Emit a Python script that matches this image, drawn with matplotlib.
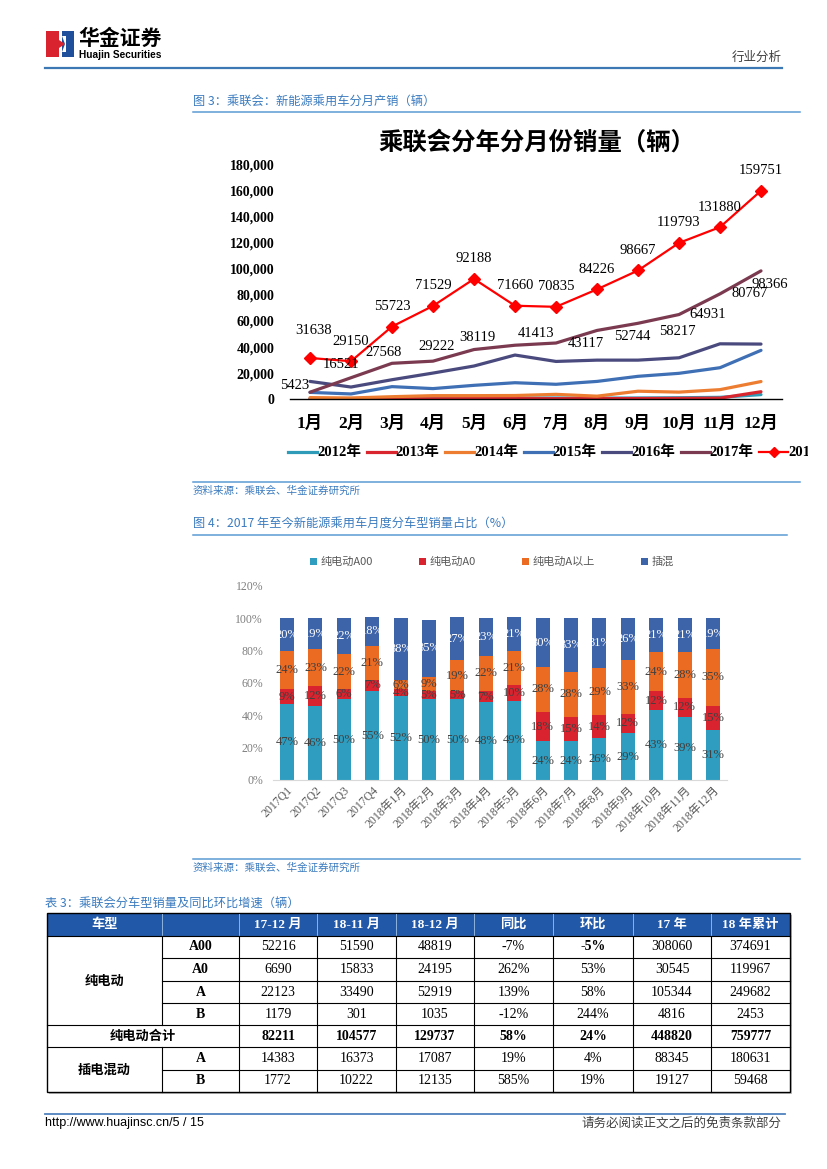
import numpy as np
import matplotlib.pyplot as plt
from matplotlib.patches import Rectangle, Polygon
from matplotlib.ticker import FuncFormatter

plt.rcParams['font.family'] = ['Liberation Serif', 'Noto Sans CJK SC']

W, H = 827, 1169
CJK = ['Noto Sans CJK SC', 'DejaVu Sans']

# 图3：分年分月销量（辆）
months = ['1月', '2月', '3月', '4月', '5月', '6月', '7月', '8月', '9月', '10月', '11月', '12月']
years = ['2012年', '2013年', '2014年', '2015年', '2016年', '2017年', '2018年']
sales_2012 = [500, 600, 700, 800, 900, 1000, 1000, 900, 1000, 1200, 1500, 3600]
sales_2013 = [300, 300, 400, 400, 500, 500, 500, 500, 600, 700, 900, 5800]
sales_2014 = [1300, 1000, 2000, 2800, 2800, 2900, 3800, 2400, 6200, 5500, 7400, 13600]
sales_2015 = [5300, 4100, 9700, 8200, 10700, 12700, 11500, 13700, 17600, 19900, 24200, 37500]
sales_2016 = [13700, 9400, 15000, 20100, 25500, 33900, 29000, 30000, 30000, 31800, 42500, 42300]
sales_2017 = [5423, 16521, 27568, 29222, 38119, 41413, 43117, 52744, 58217, 64931, 80767, 98366]
sales_2018 = [31638, 29150, 55723, 71529, 92188, 71660, 70835, 84226, 98667, 119793, 131880, 159751]

# 图4：分车型销量占比（%）
bar_cats = ['2017Q1', '2017Q2', '2017Q3', '2017Q4'] + ['2018年%d月' % m for m in range(1, 13)]
share_a00 = [47, 46, 50, 55, 52, 50, 50, 48, 49, 24, 24, 26, 29, 43, 39, 31]
share_a0 = [9, 12, 6, 7, 4, 5, 5, 7, 10, 18, 15, 14, 12, 12, 12, 15]
share_a_up = [24, 23, 22, 21, 6, 9, 19, 22, 21, 28, 28, 29, 33, 24, 28, 35]
share_phev = [20, 19, 22, 18, 38, 35, 27, 23, 21, 30, 33, 31, 26, 21, 21, 19]
share_names = ['纯电动A00', '纯电动A0', '纯电动A以上', '插混']

# 表3
table_header = ['车型', '', '17-12 月', '18-11 月', '18-12 月', '同比', '环比', '17 年', '18 年累计']
row_types = ['A00', 'A0', 'A', 'B', '', 'A', 'B']
col_1712 = [52216, 6690, 22123, 1179, 82211, 14383, 1772]
col_1811 = [51590, 15833, 33490, 301, 104577, 16373, 10222]
col_1812 = [48819, 24195, 52919, 1035, 129737, 17087, 12135]
col_yoy = ['-7%', '262%', '139%', '-12%', '58%', '19%', '585%']
col_mom = ['-5%', '53%', '58%', '244%', '24%', '4%', '19%']
col_17 = [308060, 30545, 105344, 4816, 448820, 88345, 19127]
col_18 = [374691, 119967, 249682, 2453, 759777, 180631, 59468]

# 样式
line_colors = ['#2E9BB8', '#D9262E', '#ED7D31', '#3F6FB5', '#4A4A7E', '#7B3A50', '#FF0000']
bar_colors = ['#2F9DBF', '#D9232E', '#EB6B22', '#3D63A8']
blue_txt = '#3B7BBF'
rule_col = '#5B9BD5'
lbl_2018 = [(4, 27)] + [(0, 20)] * 11
lbl_2017 = [(-15, 7), (-10, 13), (-8, 11), (4, 15), (3, 12), (21, 12),
            (30, 0), (35, -6), (39, -8), (29, 0), (30, 0), (9, -14)]


def box(x0, y0, x1, y1):
    return [x0 / W, 1 - y1 / H, (x1 - x0) / W, (y1 - y0) / H]


fig = plt.figure(figsize=(W / 100, H / 100), dpi=100)
page = fig.add_axes([0, 0, 1, 1])
page.set_xlim(0, W)
page.set_ylim(H, 0)
page.axis('off')

# 页眉
page.add_patch(Rectangle((46, 31), 13, 26, color='#D9232E', lw=0))
page.add_patch(Rectangle((62, 31), 12, 26, color='#1F4E9A', lw=0))
page.add_patch(Polygon([[59, 40], [65, 44], [59, 48]], color='#D9232E', lw=0))
page.add_patch(Polygon([[62, 36], [66, 36], [66, 52], [62, 52], [65, 44]], color='white', lw=0))
page.text(78, 38, '华金证券', family=CJK, fontsize=15, weight='heavy', va='center')
page.text(79, 54.5, 'Huajin Securities', family='Liberation Sans', fontsize=7.3, weight='bold', va='center')
page.text(782, 57, '行业分析', family=CJK, fontsize=9, color='#404040', ha='right', va='center')
page.plot([45, 782], [68, 68], color='#3C78B4', lw=1.6)

# 说明文字和分隔线
page.text(193, 101, '图 3：乘联会：新能源乘用车分月产销（辆）', family=CJK, fontsize=8.8, color=blue_txt, va='center')
page.plot([193, 800], [112, 112], color=rule_col, lw=1.1)
page.plot([193, 800], [482, 482], color=rule_col, lw=1.1)
page.text(193, 491, '资料来源：乘联会、华金证券研究所', family=CJK, fontsize=7.6, color=blue_txt, va='center', style='italic')
page.text(193, 524, '图 4：2017 年至今新能源乘用车月度分车型销量占比（%）', family=CJK, fontsize=8.8, color=blue_txt, va='center')
page.plot([193, 787], [535, 535], color=rule_col, lw=1.1)
page.plot([193, 800], [859, 859], color=rule_col, lw=1.1)
page.text(193, 868, '资料来源：乘联会、华金证券研究所', family=CJK, fontsize=7.6, color=blue_txt, va='center', style='italic')
page.text(45, 903, '表 3：乘联会分车型销量及同比环比增速（辆）', family=CJK, fontsize=8.8, color=blue_txt, va='center')

# 图3 折线图
ax1 = fig.add_axes(box(289.5, 164.3, 781.5, 399.3))
ax1.patch.set_alpha(0)
x = np.arange(1, 13)
series = [sales_2012, sales_2013, sales_2014, sales_2015, sales_2016, sales_2017]
for vals, col in zip(series, line_colors[:6]):
    ax1.plot(x, vals, color=col, lw=2.3, solid_capstyle='round')
ax1.plot(x, sales_2018, color=line_colors[6], lw=1.6, marker='D', markersize=6.5)
for xi, v, off in zip(x, sales_2017, lbl_2017):
    ax1.annotate(str(v), (xi, v), xytext=off, textcoords='offset pixels',
                 ha='center', va='center', fontsize=10.5)
for xi, v, off in zip(x, sales_2018, lbl_2018):
    ax1.annotate(str(v), (xi, v), xytext=off, textcoords='offset pixels',
                 ha='center', va='center', fontsize=10.5)
ax1.set_xlim(0.5, 12.5)
ax1.set_ylim(0, 180000)
ax1.set_yticks(np.arange(0, 180001, 20000))
ax1.yaxis.set_major_formatter(FuncFormatter(lambda v, p: '{:,.0f}'.format(v)))
ax1.set_xticks(x)
ax1.set_xticklabels(months, fontsize=12.5, weight='bold')
for t in ax1.get_yticklabels():
    t.set_fontsize(10)
    t.set_fontweight('bold')
ax1.tick_params(axis='y', length=0, pad=11)
ax1.tick_params(axis='x', length=0, pad=12)
for s in ['top', 'right', 'left']:
    ax1.spines[s].set_visible(False)
ax1.spines['bottom'].set_linewidth(1.0)
page.text(537, 143, '乘联会分年分月份销量（辆）', family=CJK, fontsize=17.6, weight='bold', ha='center', va='center')

# 图3 图例（右端被裁切）
lg = fig.add_axes(box(190, 440, 808, 465))
lg.set_xlim(190, 808)
lg.set_ylim(465, 440)
lg.axis('off')
for i, (yr, col) in enumerate(zip(years, line_colors)):
    x0 = 288 + i * 78.5
    lg.plot([x0, x0 + 29], [452, 452], color=col, lw=2.3 if i < 6 else 1.6, clip_on=True)
    if i == 6:
        lg.plot([x0 + 14.5], [452], marker='D', color=col, markersize=5, clip_on=True)
    lg.text(x0 + 29, 452, yr, fontsize=10.5, weight='bold', va='center', ha='left', clip_on=True)

# 图4 堆积柱状图
ax2 = fig.add_axes(box(272.8, 586, 727.2, 780))
ax2.patch.set_alpha(0)
xb = np.arange(len(bar_cats))
bottom = np.zeros(len(bar_cats))
label_cols = ['#404040', '#404040', '#404040', 'white']
for vals, col, name, lc in zip([share_a00, share_a0, share_a_up, share_phev], bar_colors, share_names, label_cols):
    frac = np.array(vals) / 100.0
    bars = ax2.bar(xb, frac, 0.49, bottom=bottom, color=col, label=name, lw=0)
    ax2.bar_label(bars, labels=['%d%%' % v for v in vals], label_type='center',
                  fontsize=9, color=lc)
    bottom += frac
ax2.set_xlim(-0.5, len(bar_cats) - 0.5)
ax2.set_ylim(0, 1.2)
ax2.set_yticks(np.arange(0, 1.21, 0.2))
ax2.set_yticklabels(['%d%%' % round(v * 100) for v in np.arange(0, 1.21, 0.2)], color='#7F7F7F', fontsize=8.5)
ax2.set_xticks(xb)
ax2.set_xticklabels(bar_cats, rotation=45, ha='right', rotation_mode='anchor', color='#595959', fontsize=8.5)
ax2.tick_params(axis='y', length=0, pad=7)
ax2.tick_params(axis='x', length=0, pad=3)
for s in ['top', 'right', 'left']:
    ax2.spines[s].set_visible(False)
ax2.spines['bottom'].set_color('#D9D9D9')
leg = ax2.legend(loc='center', bbox_to_anchor=(492 / W, 1 - 562 / H), bbox_transform=fig.transFigure,
                 ncol=4, frameon=False, fontsize=8, handlelength=0.6, handleheight=0.6,
                 handletextpad=0.3, columnspacing=4.2, labelcolor='#595959')
for t in leg.get_texts():
    t.set_family(CJK)

# 表3
cols_x = [47, 162, 239, 317, 396, 474, 553, 633, 711, 790]
rows_y = [913, 936, 958, 981, 1003, 1025, 1047, 1070, 1092]
page.add_patch(Rectangle((cols_x[0] + 2, rows_y[0] + 2), cols_x[-1] - cols_x[0], rows_y[-1] - rows_y[0],
                         color='#BFBFBF', lw=0))
page.add_patch(Rectangle((cols_x[0], rows_y[0]), cols_x[-1] - cols_x[0], rows_y[-1] - rows_y[0],
                         facecolor='white', edgecolor='none'))
page.add_patch(Rectangle((cols_x[0], rows_y[0]), cols_x[-1] - cols_x[0], rows_y[1] - rows_y[0],
                         facecolor='#2158A8', edgecolor='none'))
for xv in cols_x[1:-1]:
    page.plot([xv, xv], [rows_y[0] + 1, rows_y[1] - 1], color='#8FB3DE', lw=0.7)
for i, h in enumerate(table_header):
    if i == 0:
        cx = (cols_x[0] + cols_x[1]) / 2
    else:
        cx = (cols_x[i] + cols_x[i + 1]) / 2
    page.text(cx, (rows_y[0] + rows_y[1]) / 2, h, color='white', fontsize=9.5, weight='bold',
              ha='center', va='center')

lk = dict(color='black', lw=0.8)
page.plot([cols_x[1], cols_x[1]], [rows_y[1], rows_y[5]], **lk)
page.plot([cols_x[1], cols_x[1]], [rows_y[6], rows_y[8]], **lk)
for xv in cols_x[2:-1]:
    page.plot([xv, xv], [rows_y[1], rows_y[8]], **lk)
for j in [1, 5, 6]:
    page.plot([cols_x[0], cols_x[-1]], [rows_y[j], rows_y[j]], **lk)
for j in [2, 3, 4, 7]:
    page.plot([cols_x[1], cols_x[-1]], [rows_y[j], rows_y[j]], **lk)
page.add_patch(Rectangle((cols_x[0], rows_y[0]), cols_x[-1] - cols_x[0], rows_y[-1] - rows_y[0],
                         facecolor='none', edgecolor='black', lw=1.0))

page.text((cols_x[0] + cols_x[1]) / 2, (rows_y[1] + rows_y[5]) / 2, '纯电动', family=CJK,
          fontsize=9.5, weight='bold', ha='center', va='center')
page.text((cols_x[0] + cols_x[2]) / 2, (rows_y[5] + rows_y[6]) / 2, '纯电动合计', family=CJK,
          fontsize=9.5, weight='bold', ha='center', va='center')
page.text((cols_x[0] + cols_x[1]) / 2, (rows_y[6] + rows_y[8]) / 2, '插电混动', family=CJK,
          fontsize=9.5, weight='bold', ha='center', va='center')
body_cols = [col_1712, col_1811, col_1812, col_yoy, col_mom, col_17, col_18]
for r in range(len(row_types)):
    cy = (rows_y[r + 1] + rows_y[r + 2]) / 2
    if row_types[r]:
        page.text((cols_x[1] + cols_x[2]) / 2, cy, row_types[r], fontsize=10, weight='bold',
                  ha='center', va='center')
    for c, colvals in enumerate(body_cols):
        bold = (r == 4) or (r == 0 and c == 4)
        page.text((cols_x[c + 2] + cols_x[c + 3]) / 2, cy, str(colvals[r]), fontsize=10,
                  weight='bold' if bold else 'normal', ha='center', va='center')

# 页脚
page.plot([45, 785], [1114, 1114], color='#4F81BD', lw=1.3)
page.text(45, 1123, 'http://www.huajinsc.cn/5 / 15', family='Liberation Sans', fontsize=9, va='center')
page.text(782, 1123, '请务必阅读正文之后的免责条款部分', family=CJK, fontsize=9, color='#404040',
          ha='right', va='center')

fig.savefig('out.png', dpi=100)
